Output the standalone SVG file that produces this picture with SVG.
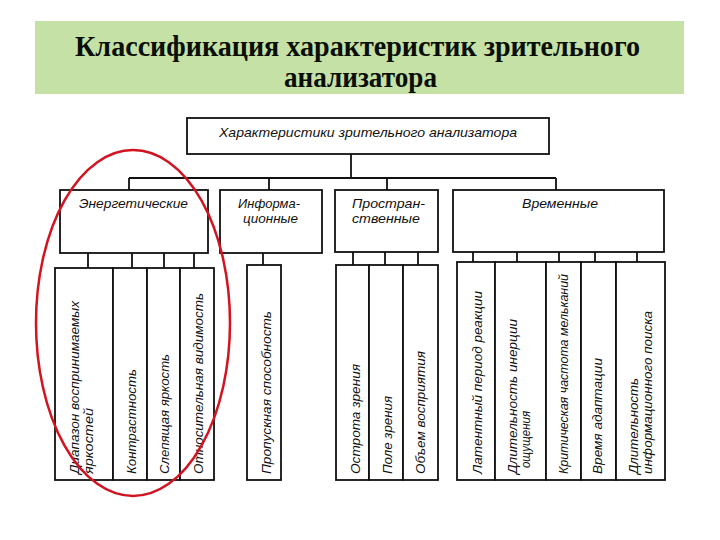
<svg xmlns="http://www.w3.org/2000/svg" width="720" height="540" viewBox="0 0 720 540">
<style>
.title{font-family:"Liberation Serif","Times New Roman",serif;font-weight:bold;font-size:29px;fill:#0a0f05}
.box{fill:#fff;stroke:#111;stroke-width:1.8}
.ln{stroke:#111;stroke-width:1.8;fill:none}
.lbl{font-family:"Liberation Sans",Arial,sans-serif;font-style:italic;font-size:13.5px;fill:#111}
.leaf{font-family:"Liberation Sans",Arial,sans-serif;font-style:italic;font-size:13px;fill:#111}
</style>
<rect width="720" height="540" fill="#fff"/>
<g id="title">
<rect x="35" y="21" width="649" height="73" fill="#c6e1a6"/>
<text class="title" x="75" y="56" textLength="565" lengthAdjust="spacingAndGlyphs">Классификация характеристик зрительного</text>
<text class="title" x="284" y="87" textLength="153" lengthAdjust="spacingAndGlyphs">анализатора</text>
</g>
<g id="connectors">
<path class="ln" d="M351 154V178M129 178H556M129 178V190M269 178V190M387 178V190M556 178V190"/>
<path class="ln" d="M88 253V268M132 253V268M164 253V268M194 253V268"/>
<path class="ln" d="M263 253V265"/>
<path class="ln" d="M353 252V265M385 252V265M418 252V265"/>
<path class="ln" d="M473 252V262M517 252V262M559 252V262M595 252V262M637 252V262"/>
</g>
<g id="root">
<rect class="box" x="187" y="118" width="362" height="36"/>
<text class="lbl" x="219" y="137" textLength="298" lengthAdjust="spacingAndGlyphs">Характеристики зрительного анализатора</text>
</g>
<g id="cat-energy">
<rect class="box" x="60" y="190" width="148" height="63"/>
<text class="lbl" x="79" y="208" textLength="109" lengthAdjust="spacingAndGlyphs">Энергетические</text>
</g>
<g id="cat-info">
<rect class="box" x="220" y="190" width="102" height="63"/>
<text class="lbl" x="238" y="208" textLength="62" lengthAdjust="spacingAndGlyphs">Информа-</text>
<text class="lbl" x="243" y="223" textLength="55" lengthAdjust="spacingAndGlyphs">ционные</text>
</g>
<g id="cat-space">
<rect class="box" x="335" y="190" width="103" height="62"/>
<text class="lbl" x="352" y="208" textLength="73" lengthAdjust="spacingAndGlyphs">Простран-</text>
<text class="lbl" x="352" y="223" textLength="68" lengthAdjust="spacingAndGlyphs">ственные</text>
</g>
<g id="cat-time">
<rect class="box" x="453" y="190" width="211" height="62"/>
<text class="lbl" x="522" y="208" textLength="76" lengthAdjust="spacingAndGlyphs">Временные</text>
</g>
<g id="leaf-e1">
<rect class="box" x="55" y="268" width="58" height="212"/>
<text class="leaf" transform="translate(79,474) rotate(-90)" textLength="173" lengthAdjust="spacingAndGlyphs">Диапазон воспринимаемых</text>
<text class="leaf" transform="translate(93,474) rotate(-90)" textLength="66" lengthAdjust="spacingAndGlyphs">яркостей</text>
</g>
<g id="leaf-e2">
<rect class="box" x="113" y="268" width="34" height="212"/>
<text class="leaf" transform="translate(136,474) rotate(-90)" textLength="105" lengthAdjust="spacingAndGlyphs">Контрастность</text>
</g>
<g id="leaf-e3">
<rect class="box" x="147" y="268" width="33" height="212"/>
<text class="leaf" transform="translate(169,474) rotate(-90)" textLength="120" lengthAdjust="spacingAndGlyphs">Слепящая яркость</text>
</g>
<g id="leaf-e4">
<rect class="box" x="180" y="268" width="34" height="212"/>
<text class="leaf" transform="translate(203,474) rotate(-90)" textLength="181" lengthAdjust="spacingAndGlyphs">Относительная видимость</text>
</g>
<g id="leaf-i1">
<rect class="box" x="247" y="265" width="34" height="215"/>
<text class="leaf" transform="translate(271,474) rotate(-90)" textLength="163" lengthAdjust="spacingAndGlyphs">Пропускная способность</text>
</g>
<g id="leaf-s1">
<rect class="box" x="336" y="265" width="33" height="215"/>
<text class="leaf" transform="translate(360,474) rotate(-90)" textLength="110" lengthAdjust="spacingAndGlyphs">Острота зрения</text>
</g>
<g id="leaf-s2">
<rect class="box" x="369" y="265" width="34" height="215"/>
<text class="leaf" transform="translate(392,474) rotate(-90)" textLength="78" lengthAdjust="spacingAndGlyphs">Поле зрения</text>
</g>
<g id="leaf-s3">
<rect class="box" x="403" y="265" width="35" height="215"/>
<text class="leaf" transform="translate(425,474) rotate(-90)" textLength="123" lengthAdjust="spacingAndGlyphs">Объем восприятия</text>
</g>
<g id="leaf-t1">
<rect class="box" x="457" y="262" width="38" height="218"/>
<text class="leaf" transform="translate(482,474) rotate(-90)" textLength="183" lengthAdjust="spacingAndGlyphs">Латентный период реакции</text>
</g>
<g id="leaf-t2">
<rect class="box" x="495" y="262" width="51" height="218"/>
<text class="leaf" transform="translate(517,474) rotate(-90)" textLength="155" lengthAdjust="spacingAndGlyphs">Длительность инерции</text>
<text class="leaf" transform="translate(530,468) rotate(-90)" textLength="57" lengthAdjust="spacingAndGlyphs">ощущения</text>
</g>
<g id="leaf-t3">
<rect class="box" x="546" y="262" width="35" height="218"/>
<text class="leaf" transform="translate(568,474) rotate(-90)" textLength="200" lengthAdjust="spacingAndGlyphs">Критическая частота мельканий</text>
</g>
<g id="leaf-t4">
<rect class="box" x="581" y="262" width="35" height="218"/>
<text class="leaf" transform="translate(602,474) rotate(-90)" textLength="116" lengthAdjust="spacingAndGlyphs">Время адаптации</text>
</g>
<g id="leaf-t5">
<rect class="box" x="616" y="262" width="49" height="218"/>
<text class="leaf" transform="translate(638,474) rotate(-90)" textLength="96" lengthAdjust="spacingAndGlyphs">Длительность</text>
<text class="leaf" transform="translate(652,474) rotate(-90)" textLength="163" lengthAdjust="spacingAndGlyphs">информационного поиска</text>
</g>
<g id="highlight">
<ellipse cx="133" cy="323" rx="97" ry="173" fill="none" stroke="#d3131f" stroke-width="2.5"/>
</g>
</svg>
